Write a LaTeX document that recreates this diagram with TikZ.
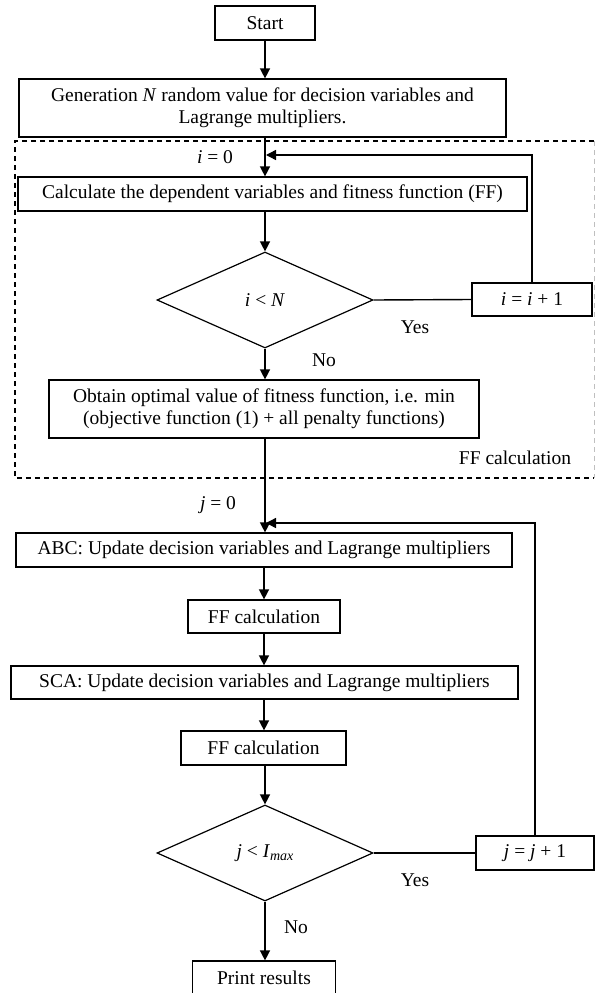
\documentclass[tikz,border=0pt]{standalone}
\usepackage{fontspec}
\setmainfont{Liberation Serif}
\usetikzlibrary{arrows.meta,shapes.geometric,calc}
\tikzset{
  fnt/.style={font=\fontsize{19.5}{22}\selectfont},
  box/.style={draw=black, line width=1.2pt, rectangle, inner sep=0pt, align=center, fnt},
  dec/.style={draw=black, line width=1.2pt, diamond, inner sep=0pt, aspect=2.25, minimum width=216pt, minimum height=96pt, fnt},
  lbl/.style={inner sep=0pt, fnt},
  arr/.style={line width=1.4pt, -{Triangle[length=10pt,width=10pt]}},
  ln/.style={line width=1.4pt},
}
\begin{document}
\begin{tikzpicture}[x=1pt,y=-1pt]
\useasboundingbox (0,0) rectangle (595,993);
% dashed region
\draw[dashed, line width=1.1pt, dash pattern=on 5pt off 4pt] (594,141) -- (15,141) -- (15,478) -- (594,478);
\draw[dashed, line width=0.8pt, gray!50, dash pattern=on 5pt off 4pt] (594,141) -- (594,478);

\node[box, minimum width=100pt, minimum height=34pt] (start) at (265,23) {Start};
\node[box, minimum width=487pt, minimum height=58pt] (gen) at (262.5,108) {Generation \textit{N} random value for decision variables and\\Lagrange multipliers.};
\node[box, minimum width=509pt, minimum height=34pt] (calc) at (272.5,194) {Calculate the dependent variables and fitness function (FF)};
\node[dec] (d1) at (265,300) {\textit{i} {<} \textit{N}};
\node[box, minimum width=120pt, minimum height=33pt] (ibox) at (532,299.5) {\textit{i} = \textit{i} + 1};
\node[box, minimum width=430pt, minimum height=58pt] (obt) at (264,409) {Obtain optimal value of fitness function, i.e. min\\(objective function (1) + all penalty functions)};
\node[lbl] (ffl) at (515,458) {FF calculation};

\node[lbl] (i0) at (215,157) {\textit{i} = 0};
\node[lbl] (yes1) at (415,327) {Yes};
\node[lbl] (no1) at (324,360) {No};

\node[box, minimum width=496pt, minimum height=34pt] (abc) at (264,550) {ABC: Update decision variables and Lagrange multipliers};
\node[box, minimum width=152pt, minimum height=33pt] (ff1) at (264,616.5) {FF calculation};
\node[box, minimum width=507pt, minimum height=33pt] (sca) at (264.5,682.5) {SCA: Update decision variables and Lagrange multipliers};
\node[box, minimum width=165pt, minimum height=34pt] (ff2) at (263.5,748) {FF calculation};
\node[dec] (d2) at (265,853) {\textit{j} {<} \textit{I}\raisebox{-0.35ex}{\fontsize{14}{14}\selectfont\textit{max}}};
\node[box, minimum width=118pt, minimum height=34pt] (jbox) at (535,853) {\textit{j} = \textit{j} + 1};
\node[box, minimum width=143pt, minimum height=33pt] (print) at (264,977.5) {Print results};

\node[lbl] (j0) at (218,505) {\textit{j} = 0};
\node[lbl] (yes2) at (415,880) {Yes};
\node[lbl] (no2) at (296,927) {No};

\coordinate (iloop) at (266,155);
\coordinate (jloop) at (266,523);

% connectors
\draw[arr] (start.south) -- (gen.north -| start.south);
\draw[arr] (gen.south -| start.south) -- (calc.north -| start.south);
\draw[arr] (calc.south -| start.south) -- (d1.north);
\draw[ln] (d1.east) -- (ibox.west);
\draw[arr] (ibox.north) |- (iloop);
\draw[arr] (d1.south) -- (obt.north -| d1.south);
\draw[arr] (obt.south -| d1.south) -- (abc.north -| d1.south);
\draw[arr] (jbox.north) |- (jloop);
\draw[arr] (abc.south -| ff1.north) -- (ff1.north);
\draw[arr] (ff1.south) -- (sca.north -| ff1.south);
\draw[arr] (sca.south -| ff1.south) -- (ff2.north -| ff1.south);
\draw[arr] (ff2.south -| d2.north) -- (d2.north);
\draw[ln] (d2.east) -- (jbox.west);
\draw[arr] (d2.south) -- (print.north -| d2.south);
\end{tikzpicture}
\end{document}
